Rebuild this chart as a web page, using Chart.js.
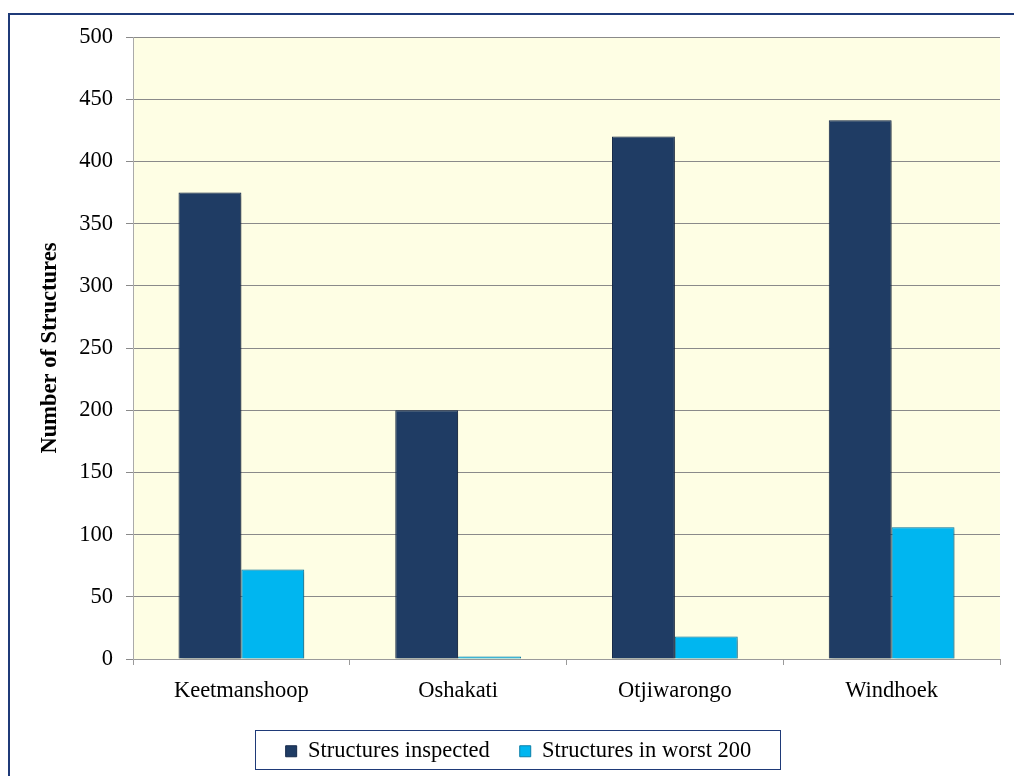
<!DOCTYPE html>
<html>
<head>
<meta charset="utf-8">
<script src="https://cdn.jsdelivr.net/npm/chart.js@4/dist/chart.umd.min.js"></script>
<style>
  html, body { margin: 0; padding: 0; background: #ffffff; overflow: hidden; }
  #frame { position: absolute; left: 8px; top: 13px; width: 1020px; height: 800px; border: 2px solid #1f3a78; box-sizing: border-box; }
  #wrap { position: absolute; left: 0; top: 0; width: 1014px; height: 776px; }
</style>
</head>
<body>
<div id="frame"></div>
<div id="wrap"><canvas id="chart"></canvas></div>
<script>
// города
const towns = ['Keetmanshoop', 'Oshakati', 'Otjiwarongo', 'Windhoek'];
// значения по сериям
const inspected = [375, 200, 420, 433];
const worst200 = [72, 2, 18, 106];
// подписи рядов
const seriesNames = ['Structures inspected', 'Structures in worst 200'];
// шкала Y
const yMin = 0, yMax = 500, yStep = 50;

const serif = '"Liberation Serif", "Times New Roman", serif';
const fontSize = 22.5;

// фон области построения
const plotBg = {
    id: 'plotBg',
    beforeDraw(chart) {
        const a = chart.chartArea, ctx = chart.ctx;
        ctx.save();
        ctx.fillStyle = '#fefee4';
        ctx.fillRect(a.left, a.top, a.right - a.left, a.bottom - a.top);
        ctx.restore();
    }
};

// тень под столбиками
const barShadow = {
    id: 'barShadow',
    beforeDatasetsDraw(chart) {
        const ctx = chart.ctx;
        ctx.save();
        ctx.shadowColor = 'rgba(0,0,0,0.3)';
        ctx.shadowBlur = 4;
        ctx.shadowOffsetX = 2;
        ctx.shadowOffsetY = 2;
    },
    afterDatasetsDraw(chart) {
        chart.ctx.restore();
    }
};

// фиксируем высоту легенды, чтобы большой отступ между пунктами не раздувал её
const legendHeight = {
    id: 'legendHeight',
    afterInit(chart) {
        const lg = chart.legend;
        if (!lg || lg._fixed) return;
        const fit = lg.fit;
        lg.fit = function () { fit.call(this); this.height = 60; };
        lg._fixed = true;
    }
};

// рамка вокруг легенды
const legendFrame = {
    id: 'legendFrame',
    afterDraw(chart) {
        const boxes = chart.legend.legendHitBoxes;
        if (!boxes || !boxes.length) return;
        let l = Infinity, r = -Infinity, t = Infinity, b = -Infinity;
        boxes.forEach(h => {
            l = Math.min(l, h.left); r = Math.max(r, h.left + h.width);
            t = Math.min(t, h.top); b = Math.max(b, h.top + h.height);
        });
        const ctx = chart.ctx;
        ctx.save();
        ctx.strokeStyle = '#1f3a78';
        ctx.lineWidth = 1;
        ctx.strokeRect(Math.round(l - 31) + 0.5, Math.round(t - 10) + 0.5, Math.round(r - l + 59), Math.round(b - t + 16));
        ctx.restore();
    }
};

new Chart(document.getElementById('chart'), {
    type: 'bar',
    data: {
        labels: towns,
        datasets: [
            {
                label: seriesNames[0],
                data: inspected,
                backgroundColor: '#1f3c64',
                borderColor: '#15294a',
                borderWidth: 1,
                categoryPercentage: 0.58,
                barPercentage: 1.0
            },
            {
                label: seriesNames[1],
                data: worst200,
                backgroundColor: '#00b6f0',
                borderColor: '#0a7fa8',
                borderWidth: 1,
                categoryPercentage: 0.58,
                barPercentage: 1.0
            }
        ]
    },
    options: {
        responsive: true,
        maintainAspectRatio: false,
        animation: false,
        layout: { padding: { left: 37, top: 37, right: 14, bottom: 6 } },
        plugins: {
            tooltip: { enabled: false },
            legend: {
                position: 'bottom',
                labels: {
                    font: { family: serif, size: fontSize },
                    color: '#000',
                    boxWidth: 11,
                    boxHeight: 11,
                    padding: 30
                }
            }
        },
        scales: {
            x: {
                grid: { display: true, drawOnChartArea: false, drawTicks: true, tickLength: 6, color: '#9a9a9a', offset: true },
                border: { color: '#9a9a9a' },
                ticks: { font: { family: serif, size: fontSize }, color: '#000', padding: 13 },
                afterFit(scale) { scale.height = 51; }
            },
            y: {
                min: yMin,
                max: yMax,
                grid: { color: '#8a8a8a', tickLength: 7, drawTicks: true },
                border: { color: '#aaaaaa' },
                ticks: { stepSize: yStep, font: { family: serif, size: fontSize }, color: '#000', padding: 13 },
                title: { display: true, text: 'Number of Structures', font: { family: serif, size: fontSize, weight: 'bold' }, color: '#000', padding: 0 },
                afterFit(scale) { scale.width = 96; }
            }
        }
    },
    plugins: [plotBg, barShadow, legendHeight, legendFrame]
});
</script>
</body>
</html>
